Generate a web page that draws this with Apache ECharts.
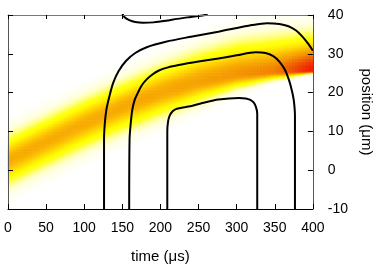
<!DOCTYPE html>
<html><head><meta charset="utf-8">
<script src="https://cdn.jsdelivr.net/npm/echarts@6/dist/echarts.min.js"></script>
<style>html,body{margin:0;padding:0;background:#fff}#c{width:382px;height:275px}</style>
</head><body><div id="c"></div>
<script>
// ---- data ----
const xTicks = [0, 50, 100, 150, 200, 250, 300, 350, 400];
const yTicks = [-10, 0, 10, 20, 30, 40];
// intensity band profile (time in µs, position in µm)
const bandTimes  = [0,   50,  100,  150,  200,  250,  300,  350,  400];
const bandCenter = [2.5, 7.3, 12.0, 16.3, 20.0, 22.8, 24.6, 25.3, 25.6];
const bandLowerW = [5.2, 5.2, 5.2,  5.2,  5.0,  4.2,  2.8,  1.5,  0.5];
const bandUpperW = [5.2, 5.2, 5.2,  5.2,  5.6,  6.2,  6.8,  7.0,  7.0];
const bandPeak   = [0.52,0.52,0.52, 0.53, 0.54, 0.56, 0.60, 0.66, 0.95];
// contour lines [time, position]
const contourOuter = [[126,-10],[126,8],[127,12],[129,15.5],[133,19],[138,22.5],[145,25.5],[155,28.2],[167,30.2],[182,31.7],[207,33.1],[240,34.4],[276,35.7],[320,37.4],[340,37.9],[356,37.7],[368,37.1],[378,36],[386,34.5],[393,32.8],[400,30.8]];
const contourMiddle = [[159,-10],[159.5,8],[161,12],[163,15.5],[166,18],[170,19.8],[175,21.7],[181,23.2],[189,24.6],[198,25.7],[210,26.5],[224,27.1],[250,28],[276,28.8],[300,29.6],[325,30.4],[338,30.2],[348,29.4],[356,28],[363,26],[368.7,23.2],[372.5,20.5],[375,18],[376.5,14],[376.5,-10]];
const contourInner = [[209,-10],[209,10],[210,12.5],[212,14],[216,15.2],[221,15.8],[228,16.1],[237,16.4],[255,17.3],[276,18.2],[303,18.6],[312,18.5],[318,18.1],[322.5,17.4],[325.5,16.2],[327,14.5],[327,-10]];
const contourTop = [[150,40.4],[153,39.4],[159,38.7],[167,38.2],[177,38.0],[191,38.1],[207,38.5],[222,39.0],[238,39.45],[250,39.75],[262,40.1]];
// colour scale, one colour per 0.05 step of intensity
const palette = ['#ffffff','#ffffd8','#ffff98','#ffff50','#ffff10','#ffff00','#fff000','#ffe000','#ffd000','#fcc000','#f8b000',
                 '#f6a400','#f49400','#f28200','#f07000','#ef5e00','#ee4c00','#ef3a00','#f02800','#f81400','#ff0000'];

// ---- build heatmap table ----
const NX = 200, NY = 125;
function interp(arr, t){
  for (let k = 0; k < bandTimes.length - 1; k++){
    if (t <= bandTimes[k+1]){
      const f = (t - bandTimes[k]) / (bandTimes[k+1] - bandTimes[k]);
      return arr[k] + f * (arr[k+1] - arr[k]);
    }
  }
  return arr[arr.length-1];
}
const xCats = [], yCats = [], heat = [];
for (let i = 0; i < NX; i++) xCats.push(((i + 0.5) * 400 / NX).toFixed(1));
for (let j = 0; j < NY; j++) yCats.push((-10 + (j + 0.5) * 50 / NY).toFixed(2));
for (let i = 0; i < NX; i++){
  const t = (i + 0.5) * 400 / NX;
  const c = interp(bandCenter, t), wl = interp(bandLowerW, t), wu = interp(bandUpperW, t), p = interp(bandPeak, t);
  for (let j = 0; j < NY; j++){
    const v = -10 + (j + 0.5) * 50 / NY;
    const d = v - c, w = d < 0 ? wl : wu;
    const val = p * Math.exp(-(d / w) * (d / w));
    if (val > 0.005) heat.push([i, j, val]);
  }
}

const FONT = 'Liberation Sans';
const chart = echarts.init(document.getElementById('c'), null, {renderer: 'canvas'});
const lineStyle = {color: '#000', width: 2};
function contour(d){ return {type: 'line', xAxisIndex: 0, yAxisIndex: 0, data: d, showSymbol: false, symbol: 'none', smooth: 0.3, lineStyle: lineStyle, z: 5, clip: true, silent: true}; }
chart.setOption({
  animation: false,
  grid: {left: 8, right: 67, top: 15, bottom: 66, containLabel: false},
  visualMap: {show: false, min: 0, max: 1, seriesIndex: 0, dimension: 2, inRange: {color: palette}},
  xAxis: [
    {type: 'value', min: 0, max: 400, interval: 50, position: 'bottom', z: 10,
     axisLine: {show: true, onZero: false, lineStyle: {color: '#000', width: 1}},
     axisTick: {show: true, inside: true, length: 5, lineStyle: {color: '#000'}},
     axisLabel: {show: true, margin: 12, color: '#000', fontFamily: FONT, fontSize: 14},
     splitLine: {show: false},
     name: 'time (μs)', nameLocation: 'middle', nameGap: 40,
     nameTextStyle: {color: '#000', fontFamily: FONT, fontSize: 15}},
    {type: 'value', min: 0, max: 400, interval: 50, position: 'top', z: 10,
     axisLine: {show: true, onZero: false, lineStyle: {color: '#777', width: 1}},
     axisTick: {show: true, inside: true, length: 4, lineStyle: {color: '#000'}},
     axisLabel: {show: false}, splitLine: {show: false}},
    {type: 'category', data: xCats, show: false, boundaryGap: true}
  ],
  yAxis: [
    {type: 'value', min: -10, max: 40, interval: 10, position: 'right', z: 10,
     axisLine: {show: true, onZero: false, lineStyle: {color: '#555', width: 1}},
     axisTick: {show: true, inside: true, length: 5, lineStyle: {color: '#000'}},
     axisLabel: {show: true, margin: 15, color: '#000', fontFamily: FONT, fontSize: 14},
     splitLine: {show: false},
     name: 'position (μm)', nameLocation: 'middle', nameGap: 44, nameRotate: -90,
     nameTextStyle: {color: '#000', fontFamily: FONT, fontSize: 15}},
    {type: 'value', min: -10, max: 40, interval: 10, position: 'left', z: 10,
     axisLine: {show: true, onZero: false, lineStyle: {color: '#555', width: 1}},
     axisTick: {show: true, inside: true, length: 5, lineStyle: {color: '#000'}},
     axisLabel: {show: false}, splitLine: {show: false}},
    {type: 'category', data: yCats, show: false, boundaryGap: true}
  ],
  series: [
    {type: 'heatmap', xAxisIndex: 2, yAxisIndex: 2, data: heat, progressive: 0, silent: true, z: 1, emphasis: {disabled: true}},
    contour(contourOuter), contour(contourMiddle), contour(contourInner), contour(contourTop)
  ]
});
</script></body></html>
